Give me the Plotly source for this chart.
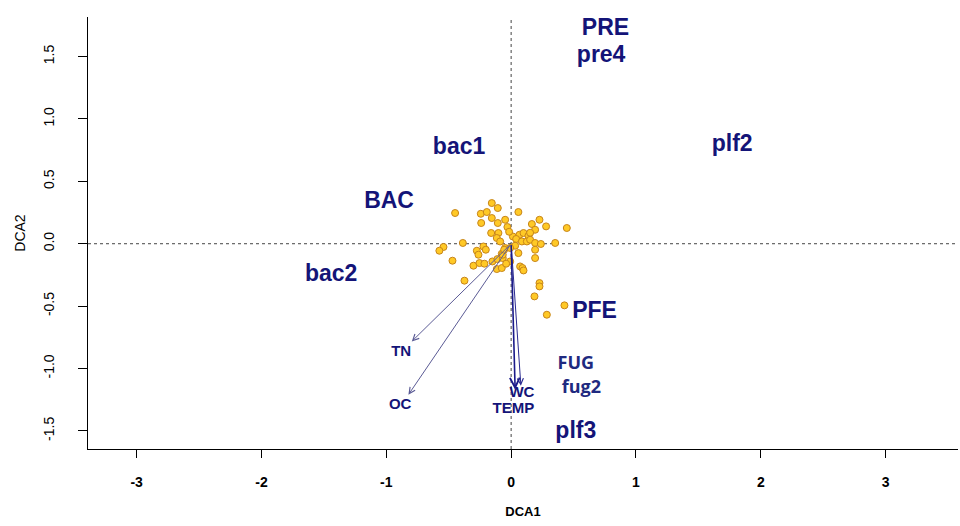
import plotly.graph_objects as go

# Site scores (DCA1, DCA2)
site_x = [-0.155, -0.107, -0.449, -0.243, -0.195, 0.058, -0.240, -0.155, -0.107, -0.048,
          -0.030, 0.166, 0.227, 0.280, 0.192, 0.446, -0.160, -0.102, -0.115, -0.088,
          0.014, 0.067, 0.099, 0.139, 0.040, 0.086, 0.126, 0.152, 0.192, 0.238,
          0.353, -0.387, -0.542, -0.575, -0.275, -0.222, -0.203, -0.262, -0.048, -0.075,
          0.032, 0.058, 0.192, 0.192, -0.470, -0.302, -0.254, -0.214, -0.150, -0.110,
          -0.067, -0.008, -0.115, -0.075, -0.040, 0.072, 0.091, 0.099, -0.374, 0.227,
          0.227, 0.187, 0.286, 0.427, -0.067, -0.008, -0.016, 0.152, -0.056]
site_y = [0.326, 0.286, 0.246, 0.240, 0.254, 0.254, 0.166, 0.206, 0.166, 0.192,
          0.134, 0.158, 0.192, 0.139, 0.112, 0.126, 0.086, 0.086, 0.046, 0.018,
          0.058, 0.072, 0.086, 0.064, 0.038, 0.018, 0.018, 0.032, 0.006, -0.002,
          0.006, 0.006, -0.026, -0.056, -0.056, -0.022, -0.048, -0.088, -0.034, -0.080,
          -0.016, -0.075, -0.048, -0.115, -0.136, -0.176, -0.155, -0.160, -0.142, -0.123,
          -0.115, -0.142, -0.203, -0.195, -0.160, -0.182, -0.195, -0.214, -0.296, -0.315,
          -0.342, -0.422, -0.569, -0.494, -0.088, -0.034, 0.096, 0.088, -0.048]

# Species / group labels
spec_names = ["PRE", "pre4", "plf2", "bac1", "BAC", "bac2", "PFE", "plf3"]
spec_x = [0.756, 0.721, 1.771, -0.417, -0.978, -1.442, 0.668, 0.518]
spec_y = [1.715, 1.501, 0.793, 0.767, 0.331, -0.256, -0.547, -1.512]

fug_names = ["FUG", "fug2"]
fug_x = [0.518, 0.563]
fug_y = [-0.970, -1.162]

# Environmental vectors
env_names = ["TN", "OC", "WC", "TEMP"]
env_x = [-0.796, -0.823, 0.078, 0.032]
env_y = [-0.783, -1.210, -1.138, -1.170]
env_lab_x = [-0.881, -0.889, 0.086, 0.018]
env_lab_y = [-0.871, -1.298, -1.200, -1.325]
env_colors = ["#5b5b95", "#5b5b95", "#2a2a90", "#1a1a8a"]
env_widths = [1, 1, 1, 1.6]

xticks = [-3, -2, -1, 0, 1, 2, 3]
yticks = [-1.5, -1.0, -0.5, 0.0, 0.5, 1.0, 1.5]

NAVY = "#141478"
FONT = "Liberation Sans, Arial, sans-serif"

fig = go.Figure()

fig.add_trace(go.Scatter(
    x=site_x, y=site_y, mode="markers",
    marker=dict(size=7, color="#FFC926", line=dict(color="#C7851A", width=1)),
    hoverinfo="skip", showlegend=False))

fig.add_trace(go.Scatter(
    x=spec_x, y=spec_y, mode="text", text=spec_names,
    textfont=dict(family=FONT, size=23, color=NAVY, weight="bold"),
    textposition="middle center", showlegend=False, hoverinfo="skip"))

fig.add_trace(go.Scatter(
    x=fug_x, y=fug_y, mode="text", text=fug_names,
    textfont=dict(family="Open Sans, Noto Sans, sans-serif", size=18, color="#1f2a80", weight="bold"),
    textposition="middle center", showlegend=False, hoverinfo="skip"))

fig.add_trace(go.Scatter(
    x=env_lab_x, y=env_lab_y, mode="text", text=env_names,
    textfont=dict(family=FONT, size=15, color=NAVY, weight="bold"),
    textposition="middle center", showlegend=False, hoverinfo="skip"))

for ex, ey, c, w in zip(env_x, env_y, env_colors, env_widths):
    fig.add_annotation(x=ex, y=ey, ax=0, ay=0, xref="x", yref="y", axref="x", ayref="y",
                       text="", showarrow=True, arrowhead=5, arrowsize=1.2,
                       arrowwidth=w, arrowcolor=c)

# dotted reference lines
fig.add_shape(type="line", x0=0, x1=0, y0=0, y1=1, xref="x", yref="paper",
              line=dict(color="#444444", width=1, dash="dot"), layer="below")
fig.add_shape(type="line", x0=0, x1=1, y0=0, y1=0, xref="paper", yref="y",
              line=dict(color="#444444", width=1, dash="dot"), layer="below")

fig.update_layout(
    width=960, height=526,
    margin=dict(l=88, r=2, t=17, b=77),
    paper_bgcolor="white", plot_bgcolor="white",
    showlegend=False,
    xaxis=dict(range=[-3.39, 3.58], tickvals=xticks, ticktext=[str(t) for t in xticks],
               automargin=False,
               showgrid=False, zeroline=False, showline=True, linecolor="black", linewidth=1,
               ticks="outside", ticklen=8, tickcolor="black", ticklabelstandoff=12,
               tickfont=dict(family=FONT, size=14, color="black", weight="bold"),
               title=dict(text="DCA1", font=dict(family=FONT, size=13, color="black", weight="bold"),
                          standoff=18)),
    yaxis=dict(range=[-1.645, 1.817], tickvals=yticks, ticktext=[f"{t:.1f}" for t in yticks],
               automargin=False,
               showgrid=False, zeroline=False, showline=True, linecolor="black", linewidth=1,
               ticks="outside", ticklen=9, tickcolor="black", tickangle=-90, ticklabelstandoff=18,
               tickfont=dict(family=FONT, size=14, color="black"),
               title=dict(text="DCA2", font=dict(family=FONT, size=14, color="black"),
                          standoff=12)),
)

fig.write_html("out.html", config={"displayModeBar": False},
               post_script="document.body.style.margin='0';document.body.style.overflow='hidden';")
